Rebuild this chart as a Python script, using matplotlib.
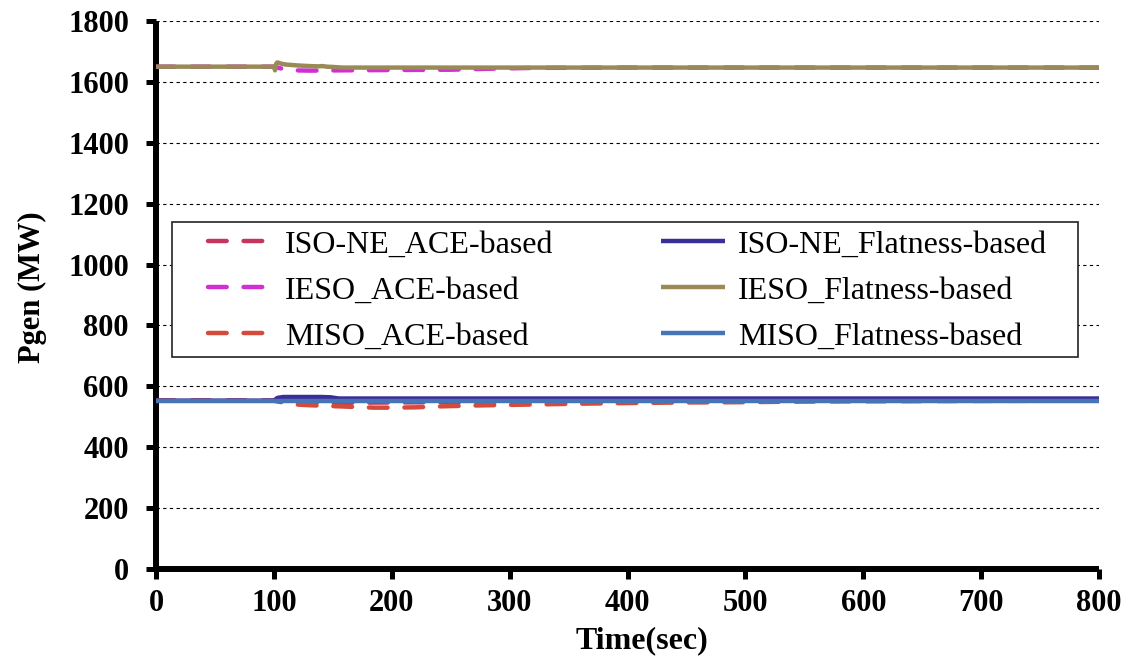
import matplotlib
matplotlib.use("Agg")
import matplotlib.pyplot as plt
from matplotlib.patches import Rectangle

# ---- data ----
t_isone_ace = [0, 100, 110, 130, 160, 200, 300, 400, 500, 800]
isone_ace = [553, 553, 548, 546, 546, 547, 549, 551, 552, 553]

t_ieso_ace = [0, 100, 105, 115, 130, 160, 200, 250, 280, 320, 400, 500, 800]
ieso_ace = [1650, 1650, 1645, 1638, 1637, 1638, 1639, 1640, 1643, 1646, 1647, 1647, 1647]

t_miso_ace = [0, 100, 105, 115, 130, 150, 170, 185, 200, 220, 240, 270, 300, 330,
              360, 400, 450, 500, 550, 600, 800]
miso_ace = [553, 553, 549, 541, 538, 535, 532, 530, 530, 531, 534, 537, 539, 541,
            543, 545, 547, 548, 550, 551, 553]

t_isone_flat = [0, 100, 103, 108, 120, 140, 148, 155, 200, 800]
isone_flat = [553, 553, 562, 565, 565, 565, 564, 560, 560, 560]

t_ieso_flat = [0, 100, 101, 102, 103, 106, 110, 120, 130, 138, 141, 145, 150, 158,
               200, 300, 400, 500, 600, 700, 800]
ieso_flat = [1650, 1650, 1638, 1660, 1664, 1660, 1657, 1654, 1652, 1651, 1652, 1650,
             1649, 1647, 1647, 1647, 1647, 1647, 1647, 1647, 1647]

t_miso_flat = [0, 100, 200, 300, 400, 500, 600, 700, 800]
miso_flat = [553, 553, 553, 553, 553, 553, 553, 553, 553]

labels = ["ISO-NE_ACE-based", "IESO_ACE-based", "MISO_ACE-based",
          "ISO-NE_Flatness-based", "IESO_Flatness-based", "MISO_Flatness-based"]
colors = ["#C4365E", "#D22FD2", "#D44B3C", "#3A2E98", "#998A56", "#4674B4"]

x_ticks = [0, 100, 200, 300, 400, 500, 600, 700, 800]
y_ticks = [0, 200, 400, 600, 800, 1000, 1200, 1400, 1600, 1800]

# ---- plot ----
plt.rcParams['font.family'] = ['Liberation Serif', 'DejaVu Serif']

fig = plt.figure(figsize=(11.32, 6.64), dpi=100)
ax = fig.add_axes([156/1132, 1 - 569/664, 943/1132, 548/664])

dash = (0, (4.2, 3.8))
lw = 3.2
series = [(t_isone_ace, isone_ace, dash), (t_ieso_ace, ieso_ace, dash),
          (t_miso_ace, miso_ace, dash), (t_isone_flat, isone_flat, '-'),
          (t_ieso_flat, ieso_flat, '-'), (t_miso_flat, miso_flat, '-')]
handles = []
for (tt, vv, ls), lab, c in zip(series, labels, colors):
    h, = ax.plot(tt, vv, color=c, lw=lw, linestyle=ls, label=lab, zorder=4,
                 solid_capstyle='butt', dash_capstyle='round')
    handles.append(h)

ax.set_xlim(0, 800)
ax.set_ylim(0, 1800)
ax.set_xticks(x_ticks)
ax.set_yticks(y_ticks)

for s in ['top', 'right']:
    ax.spines[s].set_visible(False)
for s in ['left', 'bottom']:
    ax.spines[s].set_linewidth(4.3)
    ax.spines[s].set_color('black')
    ax.spines[s].set_capstyle('butt')

ax.yaxis.grid(True, color='black', linestyle=(0, (3, 3)), linewidth=0.8)
ax.set_axisbelow(True)

ax.tick_params(axis='both', direction='out', length=7.5, width=3.6, labelsize=22)
ax.tick_params(axis='y', pad=12)
ax.tick_params(axis='x', pad=7)
for lbl in ax.get_xticklabels() + ax.get_yticklabels():
    lbl.set_fontweight('bold')

ax.set_xlabel("Time(sec)", fontsize=23, fontweight='bold')
ax.set_ylabel("Pgen (MW)", fontsize=22, fontweight='bold')
ax.xaxis.set_label_coords((642 - 156) / 943, -(626 - 569) / 548)
ax.yaxis.set_label_coords(-(156 - 47) / 943, (569 - 287) / 548)

# legend frame
fx0 = (172 - 156) / 943
fx1 = (1078 - 156) / 943
fy1 = (569 - 222) / 548
fy0 = (569 - 357) / 548
ax.add_patch(Rectangle((fx0, fy0), fx1 - fx0, fy1 - fy0, transform=ax.transAxes,
                       facecolor='white', edgecolor='#222222', lw=1.2, zorder=3))

cx0 = (208 - 156) / 943
cx1 = (1047 - 156) / 943
leg = ax.legend(handles=handles, ncol=2, loc='upper left',
                bbox_to_anchor=(cx0, (569 - 230) / 548, cx1 - cx0, 0),
                mode='expand', frameon=False, borderpad=0, borderaxespad=0,
                fontsize=23, handlelength=2.0, handletextpad=0.4,
                labelspacing=0.52)
leg.set_zorder(5)

fig.savefig("out.png", dpi=100)
